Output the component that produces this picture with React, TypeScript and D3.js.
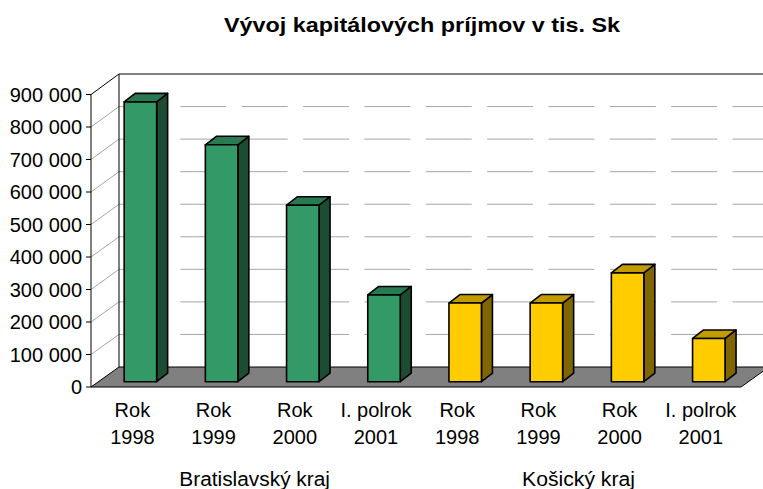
import React from "react";
import * as d3 from "d3";

const title = "Vývoj kapitálových príjmov v tis. Sk";
const yearLabels = ["Rok|1998", "Rok|1999", "Rok|2000", "I. polrok|2001", "Rok|1998", "Rok|1999", "Rok|2000", "I. polrok|2001"];
const values = [861000, 729000, 543000, 267000, 242000, 242000, 335000, 133000];
const regions = ["Bratislavský kraj", "Košický kraj"];
const regionOf = [0, 0, 0, 0, 1, 1, 1, 1];
const yTicks = [0, 100000, 200000, 300000, 400000, 500000, 600000, 700000, 800000, 900000];
const palettes = [
  { front: "#339966", top: "#287a52", side: "#1c4d33" },
  { front: "#ffcc00", top: "#c29b00", side: "#806600" },
];

const W = 763, H = 489;
const FONT = "'Liberation Sans', Arial, sans-serif";

// plot planes
const frontX = 91, backX = 119, frontY0 = 387, backY0 = 367, frontTop = 94.5, backTop = 74;
const rightFront = 741, rightBack = 769;
const yFront = d3.scaleLinear().domain([0, 900000]).range([frontY0, frontTop]);
const yBack = d3.scaleLinear().domain([0, 900000]).range([backY0, backTop]);
const yBar = d3.scaleLinear().domain([0, 900000]).range([381.7, 89.2]);
const x = d3.scaleBand<number>().domain(d3.range(values.length)).range([99.8, 749.4]).paddingInner(0.6).paddingOuter(0.3);
const depthX = 11, depthY = -8.5;
const fmt = (v: number) => d3.format(",")(v).replace(/,/g, " ");
const pts = (p: number[][]) => p.map((q) => q.join(",")).join(" ");

export default function App() {
  return (
    <svg width={W} height={H} viewBox={`0 0 ${W} ${H}`} style={{ position: "fixed", left: 0, top: 0, background: "#fff" }} fontFamily={FONT} fill="#000">
      <text x={224} y={32} fontSize={21} fontWeight="bold" textLength={396} lengthAdjust="spacingAndGlyphs">{title}</text>

      {/* back wall gridlines */}
      {yTicks.slice(1, -1).map((t) => (
        <g key={t} stroke="#a6a6a6" strokeWidth={1}>
          <line x1={frontX} x2={backX} y1={yFront(t)} y2={yBack(t)} />
          <line x1={backX} x2={W} y1={yBack(t)} y2={yBack(t)} strokeDasharray="46 15.35" />
        </g>
      ))}
      {/* walls */}
      <line x1={backX} x2={W} y1={backTop} y2={backTop} stroke="#000" strokeWidth={1} />
      <line x1={backX} x2={backX} y1={backTop} y2={backY0} stroke="#000" strokeWidth={1} />
      <line x1={frontX} x2={backX} y1={frontTop} y2={backTop} stroke="#000" strokeWidth={1} />
      {/* floor */}
      <polygon points={pts([[frontX, frontY0], [backX, backY0], [rightBack, backY0], [rightFront, frontY0]])} fill="#808080" stroke="#000" strokeWidth={1} />
      {/* y axis */}
      <line x1={frontX} x2={frontX} y1={frontTop} y2={frontY0} stroke="#000" strokeWidth={1} />
      {yTicks.map((t) => (
        <g key={t}>
          <line x1={frontX - 5} x2={frontX} y1={yFront(t)} y2={yFront(t)} stroke="#000" strokeWidth={1} />
          <text x={82} y={yFront(t) + 7} fontSize={20} textAnchor="end">{fmt(t)}</text>
        </g>
      ))}
      {/* bars */}
      {values.map((v, i) => {
        const c = palettes[regionOf[i]];
        const x0 = x(i)!, x1 = x0 + x.bandwidth();
        const yt = yBar(v), yb = yBar(0);
        return (
          <g key={i} stroke="#000" strokeWidth={1.6} strokeLinejoin="round">
            <polygon fill={c.side} points={pts([[x1, yt], [x1 + depthX, yt + depthY], [x1 + depthX, yb + depthY], [x1, yb]])} />
            <polygon fill={c.top} points={pts([[x0, yt], [x0 + depthX, yt + depthY], [x1 + depthX, yt + depthY], [x1, yt]])} />
            <rect x={x0} y={yt} width={x.bandwidth()} height={yb - yt} fill={c.front} />
          </g>
        );
      })}
      {/* category labels */}
      {yearLabels.map((l, i) => {
        const [a, b] = l.split("|");
        const cx = x(i)! + x.bandwidth() / 2 - 8;
        return (
          <g key={i} fontSize={20} textAnchor="middle">
            <text x={cx} y={417}>{a}</text>
            <text x={cx} y={444}>{b}</text>
          </g>
        );
      })}
      <text x={179.3} y={486} fontSize={20} textLength={150.7} lengthAdjust="spacingAndGlyphs">{regions[0]}</text>
      <text x={522} y={486} fontSize={20} textLength={113} lengthAdjust="spacingAndGlyphs">{regions[1]}</text>
    </svg>
  );
}
